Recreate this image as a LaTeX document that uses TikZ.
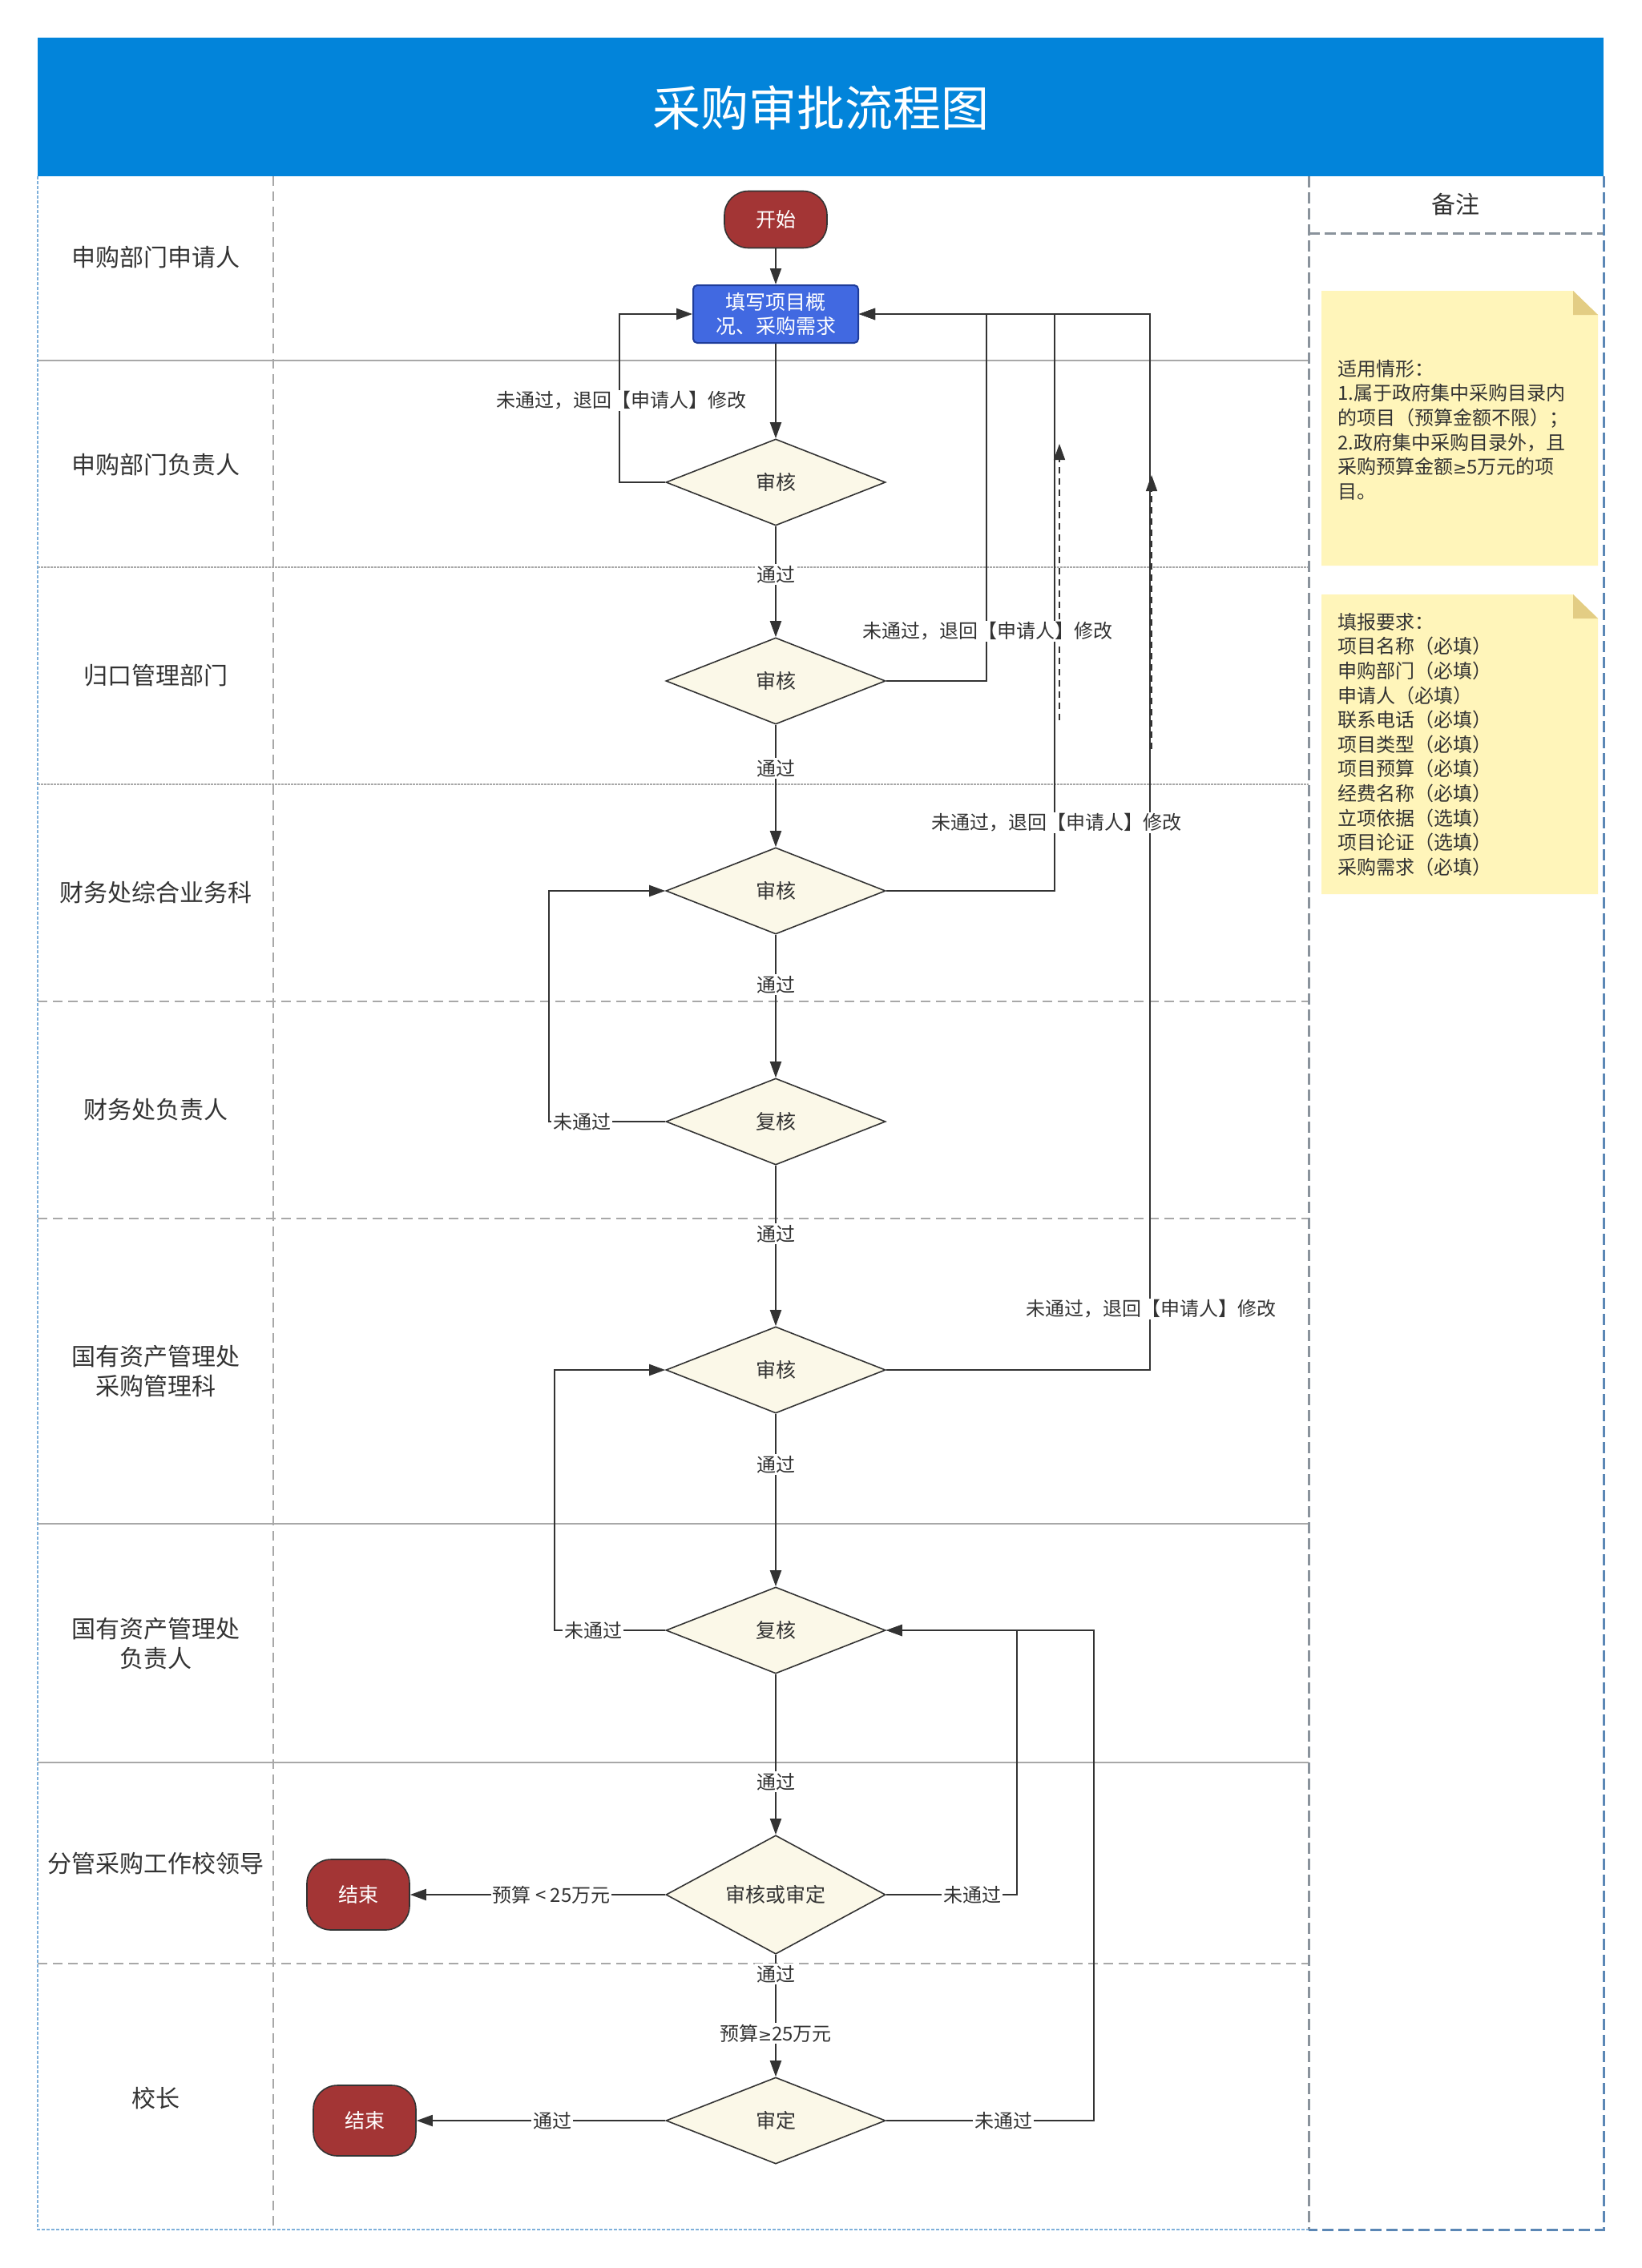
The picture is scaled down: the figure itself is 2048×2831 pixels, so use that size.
\documentclass[tikz,border=0pt]{standalone}
\usepackage{fontspec}
\setmainfont{Noto Sans CJK SC}
\newfontfamily\symfnt{DejaVu Sans}
\usetikzlibrary{shapes.geometric,arrows.meta}
\definecolor{hdr}{HTML}{0284DA}
\definecolor{endred}{HTML}{A33535}
\definecolor{boxblue}{HTML}{4169E1}
\definecolor{boxedge}{HTML}{1E3C9A}
\definecolor{diafill}{HTML}{FBF8E8}
\definecolor{linec}{HTML}{333333}
\definecolor{txt}{HTML}{333333}
\definecolor{lanegray}{HTML}{A8A8A8}
\definecolor{notey}{HTML}{FFF5BA}
\definecolor{notefold}{HTML}{E3CD84}
\definecolor{edgeblue}{HTML}{5B87B5}
\definecolor{edgegray}{HTML}{8A939C}
\definecolor{thinblue}{HTML}{7FB0DA}
\newcommand{\fsz}[2]{\fontsize{#1pt}{#2pt}\selectfont}
\newcommand{\mygeq}{{\symfnt\scalebox{0.85}{≥}}}
\begin{document}
\begin{tikzpicture}[x=1pt,y=-1pt,
  conn/.style={draw=linec, line width=2pt},
  arr/.style={conn, -{Triangle[length=20pt,width=14pt]}},
  dia/.style={diamond, draw=linec, fill=diafill, line width=1.6pt, minimum width=274pt, minimum height=108pt, inner sep=0pt, text=txt, font=\fsz{25}{30}},
  term/.style={rectangle, rounded corners=30pt, draw=linec, fill=endred, line width=1.6pt, minimum width=128pt, text=white, font=\fsz{25}{30}},
  procbox/.style={rectangle, rounded corners=5pt, draw=boxedge, fill=boxblue, line width=2pt, minimum width=206pt, minimum height=72pt, text=white, align=center, font=\fsz{25}{30.5}},
  lbl/.style={fill=white, inner sep=2pt, text=txt, font=\fsz{24}{28}},
  lanelbl/.style={text=txt, align=center, font=\fsz{30}{37}},
  lanesolid/.style={draw=lanegray, line width=2pt},
  lanedash/.style={draw=lanegray, line width=2pt, dash pattern=on 12pt off 7pt},
  lanedot/.style={draw=lanegray, line width=2pt, dash pattern=on 3pt off 1pt},
  notetxt/.style={anchor=north west, inner sep=0pt, align=left, text=txt, font=\fsz{24}{30.6}}
]
\useasboundingbox (0,0) rectangle (2048,2831);
\fill[white] (0,0) rectangle (2048,2831);

% header
\fill[hdr] (47,47) rectangle (2001,220);
\node[text=white, font=\fsz{60}{70}] (title) at (1024,135) {采购审批流程图};

% lane dividers
\draw[lanesolid] (47,450) -- (1633,450);
\draw[lanedot] (47,708) -- (1633,708);
\draw[lanedot] (47,979) -- (1633,979);
\draw[lanedash] (47,1250) -- (1633,1250);
\draw[lanedash] (47,1521) -- (1633,1521);
\draw[lanesolid] (47,1902) -- (1633,1902);
\draw[lanesolid] (47,2200) -- (1633,2200);
\draw[lanedash] (47,2451) -- (1633,2451);

% vertical separators and frame
\draw[draw=lanegray, line width=1.5pt, dash pattern=on 12pt off 7pt] (341,220) -- (341,2783);
\draw[draw=thinblue, line width=1.5pt, dash pattern=on 4pt off 2pt] (47,220) -- (47,2783) -- (1633,2783);
\draw[draw=edgegray, line width=3pt, dash pattern=on 14pt off 6pt] (1633,220) -- (1633,2783);
\draw[draw=edgegray, line width=3pt, dash pattern=on 14pt off 6pt] (1633,291) -- (2001,291);
\draw[draw=edgeblue, line width=3pt, dash pattern=on 14pt off 6pt] (2001,220) -- (2001,2783) -- (1633,2783);

% lane labels
\node[lanelbl] (l1) at (194,321) {申购部门申请人};
\node[lanelbl] (l2) at (194,580) {申购部门负责人};
\node[lanelbl] (l3) at (194,843) {归口管理部门};
\node[lanelbl] (l4) at (194,1114) {财务处综合业务科};
\node[lanelbl] (l5) at (194,1385) {财务处负责人};
\node[lanelbl] (l6) at (194,1712) {国有资产管理处\\采购管理科};
\node[lanelbl] (l7) at (194,2052) {国有资产管理处\\负责人};
\node[lanelbl] (l8) at (194,2326) {分管采购工作校领导};
\node[lanelbl] (l9) at (194,2619) {校长};
\node[lanelbl] (remark) at (1816,255) {备注};

% notes
\fill[notey] (1649,363) -- (1963,363) -- (1994,393) -- (1994,706) -- (1649,706) -- cycle;
\fill[notefold] (1963,363) -- (1994,393) -- (1963,393) -- cycle;
\node[notetxt] (n1) at (1669,449) {适用情形：\\1.属于政府集中采购目录内\\的项目（预算金额不限）；\\2.政府集中采购目录外，且\\采购预算金额\mygeq 5万元的项\\目。};
\fill[notey] (1649,742) -- (1963,742) -- (1994,772) -- (1994,1116) -- (1649,1116) -- cycle;
\fill[notefold] (1963,742) -- (1994,772) -- (1963,772) -- cycle;
\node[notetxt] (n2) at (1669,765) {填报要求：\\项目名称（必填）\\申购部门（必填）\\申请人（必填）\\联系电话（必填）\\项目类型（必填）\\项目预算（必填）\\经费名称（必填）\\立项依据（选填）\\项目论证（选填）\\采购需求（必填）};

% flow nodes
\node[term, minimum height=71pt] (start) at (968,274) {开始};
\node[procbox] (fill) at (968,392) {填写项目概\\况、采购需求};
\node[dia] (d1) at (968,602) {审核};
\node[dia] (d2) at (968,850) {审核};
\node[dia] (d3) at (968,1112) {审核};
\node[dia] (d4) at (968,1400) {复核};
\node[dia] (d5) at (968,1710) {审核};
\node[dia] (d6) at (968,2035) {复核};
\node[dia] (d7) at (968,2365) {审核或审定};
\node[dia] (d8) at (968,2647) {审定};
\node[term, minimum height=88pt] (end1) at (447,2365) {结束};
\node[term, minimum height=88pt] (end2) at (455,2647) {结束};

% bend coordinates
\coordinate (b1) at (773,602);
\coordinate (b2) at (1231,850);
\coordinate (b3) at (1316,1112);
\coordinate (b5) at (1435,1710);
\coordinate (b4) at (685,1400);
\coordinate (b6) at (692,2035);
\coordinate (b7) at (1269,2365);
\coordinate (b8) at (1365,2647);
\coordinate (da1s) at (1322,899);
\coordinate (da1e) at (1322,554);
\coordinate (da2s) at (1437,935);
\coordinate (da2e) at (1437,593);

% main vertical flow
\draw[arr] (start) -- (fill);
\draw[arr] (fill) -- (d1);
\draw[arr] (d1) -- (d2);
\draw[arr] (d2) -- (d3);
\draw[arr] (d3) -- (d4);
\draw[arr] (d4) -- (d5);
\draw[arr] (d5) -- (d6);
\draw[arr] (d6) -- (d7);
\draw[arr] (d7) -- (d8);

% returns
\draw[arr] (d1.west) -- (b1) |- (fill.west);
\draw[arr] (d2.east) -- (b2) |- (fill.east);
\draw[arr] (d3.east) -- (b3) |- (fill.east);
\draw[arr] (d5.east) -- (b5) |- (fill.east);
\draw[arr] (d4.west) -- (b4) |- (d3.west);
\draw[arr] (d6.west) -- (b6) |- (d5.west);
\draw[arr] (d7.east) -- (b7) |- (d6.east);
\draw[arr] (d8.east) -- (b8) |- (d6.east);
\draw[arr] (d7.west) -- (end1.east);
\draw[arr] (d8.west) -- (end2.east);
\draw[draw=linec, line width=1.5pt, dash pattern=on 8pt off 6pt, -{Triangle[length=20pt,width=14pt]}] (da1s) -- (da1e);
\draw[draw=linec, line width=1.5pt, dash pattern=on 8pt off 6pt, -{Triangle[length=20pt,width=14pt]}] (da2s) -- (da2e);

% connector labels
\node[lbl] (t1) at (775,500) {未通过，退回【申请人】修改};
\node[lbl] (t2) at (1232,788) {未通过，退回【申请人】修改};
\node[lbl] (t3) at (1318,1027) {未通过，退回【申请人】修改};
\node[lbl] (t4) at (1436,1634) {未通过，退回【申请人】修改};
\node[lbl] (p1) at (968,717) {通过};
\node[lbl] (p2) at (968,959) {通过};
\node[lbl] (p3) at (968,1229) {通过};
\node[lbl] (p4) at (968,1540) {通过};
\node[lbl] (p5) at (968,1828) {通过};
\node[lbl] (p6) at (968,2224) {通过};
\node[lbl] (p7) at (968,2464) {通过};
\node[lbl] (p8) at (968,2538) {预算\mygeq 25万元};
\node[lbl] (f1) at (726,1400) {未通过};
\node[lbl] (f2) at (740,2035) {未通过};
\node[lbl] (f3) at (1213,2365) {未通过};
\node[lbl] (f4) at (1252,2647) {未通过};
\node[lbl] (e1) at (688,2365) {预算 < 25万元};
\node[lbl] (e2) at (689,2647) {通过};
\end{tikzpicture}
\end{document}
